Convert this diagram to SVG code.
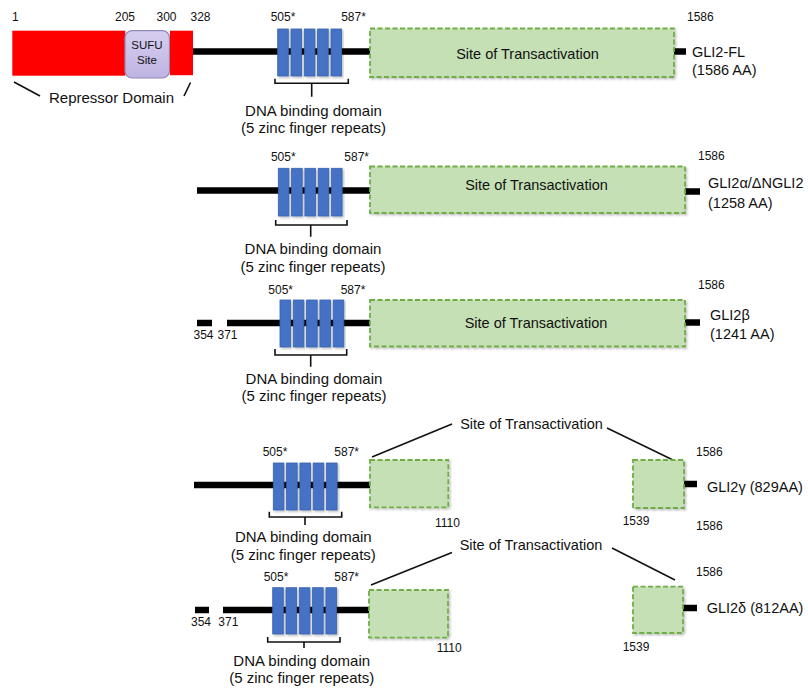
<svg xmlns="http://www.w3.org/2000/svg" width="808" height="689" viewBox="0 0 808 689">
<defs>
<filter id="sh" x="-10%" y="-10%" width="130%" height="130%">
<feDropShadow dx="1.5" dy="1.5" stdDeviation="1.2" flood-color="#000" flood-opacity="0.25"/>
</filter>
<linearGradient id="sufuG" x1="0" y1="0" x2="0" y2="1">
<stop offset="0" stop-color="#d6cef0"/>
<stop offset="1" stop-color="#bfb3e2"/>
</linearGradient>
</defs>
<style>
text{font-family:"Liberation Sans",Arial,sans-serif;fill:#111}
.num{font-size:12px}
.lbl{font-size:15px}
.iso{font-size:14.5px}
.sot{font-size:14.5px}
.bb{stroke:#000;stroke-width:6.5;fill:none}
.bar{fill:#4472c4;stroke:#3a63b0;stroke-width:0.8;filter:url(#sh)}
.grn{fill:#c5e0b4;stroke:#70ad47;stroke-width:1.8;stroke-dasharray:5 2.5;filter:url(#sh)}
.brk{fill:none;stroke:#111;stroke-width:1.6}
.ln{fill:none;stroke:#111;stroke-width:1.6}
.red{fill:#ff0000}
</style>

<!-- connectors / backbones -->
<g id="connectors">
<line class="bb" x1="193" y1="51.5" x2="370" y2="51.5"/>
<line class="bb" x1="674" y1="51.5" x2="686" y2="51.5"/>
<line class="bb" x1="197" y1="190.5" x2="371" y2="190.5"/>
<line class="bb" x1="685" y1="191.5" x2="700" y2="191.5"/>
<line class="bb" x1="197" y1="323" x2="212" y2="323"/>
<line class="bb" x1="227" y1="323" x2="371" y2="323"/>
<line class="bb" x1="685" y1="322.5" x2="700" y2="322.5"/>
<line class="bb" x1="194" y1="485" x2="371" y2="485"/>
<line class="bb" x1="684" y1="484" x2="697" y2="484"/>
<line class="bb" x1="195" y1="610" x2="209" y2="610"/>
<line class="bb" x1="223" y1="610" x2="370" y2="610"/>
<line class="bb" x1="683" y1="608" x2="697" y2="608"/>
<!-- pointer lines -->
<line class="ln" x1="14" y1="82" x2="40" y2="96"/>
<line class="ln" x1="190.5" y1="82.5" x2="184" y2="96"/>
<line class="ln" x1="372" y1="457" x2="452" y2="424"/>
<line class="ln" x1="607" y1="428" x2="673" y2="460"/>
<line class="ln" x1="371" y1="585" x2="452" y2="552.5"/>
<line class="ln" x1="612" y1="548" x2="675" y2="580"/>
</g>

<!-- Row 1: GLI2-FL -->
<g id="gli2-fl">
<rect class="red" x="12.3" y="30.7" width="113" height="45"/>
<rect x="125" y="30.7" width="44.5" height="47.3" rx="7" fill="url(#sufuG)" stroke="#9288b4" stroke-width="1.2"/>
<text x="147" y="48.5" text-anchor="middle" style="font-size:11.5px">SUFU</text>
<text x="147" y="64" text-anchor="middle" style="font-size:11.5px">Site</text>
<rect class="red" x="170" y="30.7" width="23" height="44.5"/>
<text class="num" x="12" y="21">1</text>
<text class="num" x="115" y="21">205</text>
<text class="num" x="156.5" y="21">300</text>
<text class="num" x="190.5" y="21">328</text>
<text class="lbl" x="49" y="103">Repressor Domain</text>
<rect class="bar" x="277.7" y="29" width="10.6" height="47"/>
<rect class="bar" x="291" y="29" width="10.6" height="47"/>
<rect class="bar" x="304.3" y="29" width="10.6" height="47"/>
<rect class="bar" x="317.6" y="29" width="10.6" height="47"/>
<rect class="bar" x="331" y="29" width="10.6" height="47"/>
<text class="num" x="283" y="21" text-anchor="middle">505*</text>
<text class="num" x="353.5" y="21" text-anchor="middle">587*</text>
<path class="brk" d="M275,78.7 V83.3 H348.3 V78.7 M311.7,83.3 V96.7"/>
<text class="lbl" x="313.5" y="115.5" text-anchor="middle">DNA binding domain</text>
<text class="lbl" x="313.5" y="133" text-anchor="middle">(5 zinc finger repeats)</text>
<rect class="grn" x="370" y="28.5" width="304" height="48.5"/>
<text class="sot" x="527.5" y="58.5" text-anchor="middle">Site of Transactivation</text>
<text class="num" x="687" y="21">1586</text>
<text class="iso" x="692" y="57">GLI2-FL</text>
<text class="iso" x="692" y="75">(1586 AA)</text>
</g>

<!-- Row 2: GLI2alpha -->
<g id="gli2-alpha">
<rect class="bar" x="278.3" y="168.3" width="10.6" height="47.7"/>
<rect class="bar" x="291.6" y="168.3" width="10.6" height="47.7"/>
<rect class="bar" x="304.9" y="168.3" width="10.6" height="47.7"/>
<rect class="bar" x="318.2" y="168.3" width="10.6" height="47.7"/>
<rect class="bar" x="331.5" y="168.3" width="10.6" height="47.7"/>
<text class="num" x="283.3" y="161" text-anchor="middle">505*</text>
<text class="num" x="356.7" y="161" text-anchor="middle">587*</text>
<path class="brk" d="M275.7,220 V225 H347 V220 M310.7,225 V236.7"/>
<text class="lbl" x="313" y="253.5" text-anchor="middle">DNA binding domain</text>
<text class="lbl" x="313" y="271.5" text-anchor="middle">(5 zinc finger repeats)</text>
<rect class="grn" x="370" y="166.5" width="315" height="46.5"/>
<text class="sot" x="536.5" y="190" text-anchor="middle">Site of Transactivation</text>
<text class="num" x="698" y="159.5">1586</text>
<text class="iso" x="708" y="188">GLI2α/ΔNGLI2</text>
<text class="iso" x="708" y="208">(1258 AA)</text>
</g>

<!-- Row 3: GLI2beta -->
<g id="gli2-beta">
<rect class="bar" x="280" y="300" width="10.6" height="47"/>
<rect class="bar" x="293.3" y="300" width="10.6" height="47"/>
<rect class="bar" x="306.6" y="300" width="10.6" height="47"/>
<rect class="bar" x="319.9" y="300" width="10.6" height="47"/>
<rect class="bar" x="333.2" y="300" width="10.6" height="47"/>
<text class="num" x="280.7" y="294.3" text-anchor="middle">505*</text>
<text class="num" x="353" y="294.3" text-anchor="middle">587*</text>
<text class="num" x="193.5" y="339.3">354</text>
<text class="num" x="217.5" y="339.3">371</text>
<path class="brk" d="M275,349 V355 H346.7 V349 M310.7,355 V366.7"/>
<text class="lbl" x="314" y="383.5" text-anchor="middle">DNA binding domain</text>
<text class="lbl" x="314" y="401" text-anchor="middle">(5 zinc finger repeats)</text>
<rect class="grn" x="370" y="300" width="315" height="46.5"/>
<text class="sot" x="536" y="328" text-anchor="middle">Site of Transactivation</text>
<text class="num" x="698" y="288.5">1586</text>
<text class="iso" x="710" y="320">GLI2β</text>
<text class="iso" x="710" y="338.5">(1241 AA)</text>
</g>

<!-- Row 4: GLI2gamma -->
<g id="gli2-gamma">
<rect class="bar" x="273.3" y="463" width="10.6" height="47"/>
<rect class="bar" x="286.6" y="463" width="10.6" height="47"/>
<rect class="bar" x="299.9" y="463" width="10.6" height="47"/>
<rect class="bar" x="313.2" y="463" width="10.6" height="47"/>
<rect class="bar" x="326.5" y="463" width="10.6" height="47"/>
<text class="num" x="275" y="456" text-anchor="middle">505*</text>
<text class="num" x="346.7" y="456" text-anchor="middle">587*</text>
<path class="brk" d="M269.3,511.7 V517 H341.7 V511.7 M305,517 V525"/>
<text class="lbl" x="303.3" y="542" text-anchor="middle">DNA binding domain</text>
<text class="lbl" x="303.3" y="560" text-anchor="middle">(5 zinc finger repeats)</text>
<rect class="grn" x="370" y="460" width="78.3" height="47.3"/>
<rect class="grn" x="633" y="460" width="51" height="48"/>
<text class="sot" x="531.5" y="429" text-anchor="middle">Site of Transactivation</text>
<text class="num" x="435" y="527.3">1110</text>
<text class="num" x="622.7" y="525.3">1539</text>
<text class="num" x="696" y="456">1586</text>
<text class="num" x="696" y="530.3">1586</text>
<text class="iso" x="707" y="492">GLI2γ (829AA)</text>
</g>

<!-- Row 5: GLI2delta -->
<g id="gli2-delta">
<rect class="bar" x="272.7" y="587.7" width="10.6" height="46.3"/>
<rect class="bar" x="286" y="587.7" width="10.6" height="46.3"/>
<rect class="bar" x="299.3" y="587.7" width="10.6" height="46.3"/>
<rect class="bar" x="312.6" y="587.7" width="10.6" height="46.3"/>
<rect class="bar" x="325.9" y="587.7" width="10.6" height="46.3"/>
<text class="num" x="276" y="581" text-anchor="middle">505*</text>
<text class="num" x="346.7" y="581" text-anchor="middle">587*</text>
<text class="num" x="191" y="626">354</text>
<text class="num" x="218.3" y="626">371</text>
<path class="brk" d="M267.7,637 V642 H340 V637 M304,642 V648"/>
<text class="lbl" x="301.7" y="665.5" text-anchor="middle">DNA binding domain</text>
<text class="lbl" x="301.7" y="683" text-anchor="middle">(5 zinc finger repeats)</text>
<rect class="grn" x="369" y="590" width="79" height="47.7"/>
<rect class="grn" x="633" y="586.7" width="50" height="46.3"/>
<text class="sot" x="531" y="550" text-anchor="middle">Site of Transactivation</text>
<text class="num" x="436.7" y="652.3">1110</text>
<text class="num" x="622.7" y="651">1539</text>
<text class="num" x="696" y="576">1586</text>
<text class="iso" x="706.7" y="613">GLI2δ (812AA)</text>
</g>
</svg>
